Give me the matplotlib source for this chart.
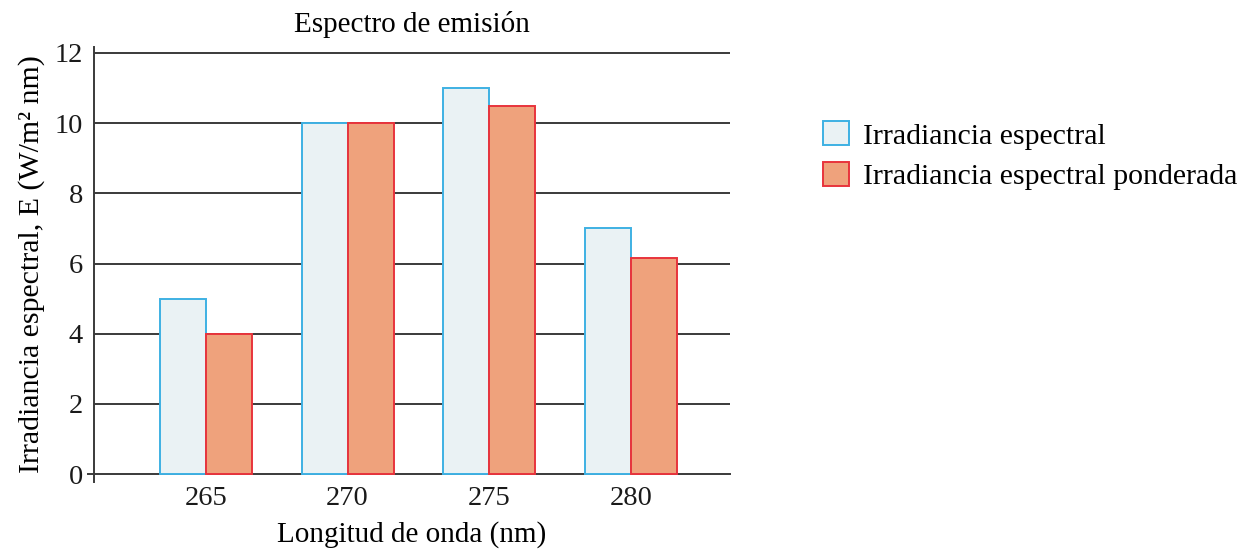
"""Espectro de emisión: irradiancia espectral vs ponderada."""
import matplotlib.pyplot as plt
import numpy as np

plt.rcParams["font.family"] = ["Liberation Serif", "DejaVu Serif"]

wavelengths = ["265", "270", "275", "280"]
irradiancia = [5, 10, 11, 7]
ponderada = [4, 10, 10.5, 6.15]
y_ticks = [0, 2, 4, 6, 8, 10, 12]

FS = 21.5
BAR_W = 0.325

fig = plt.figure(figsize=(12.5, 5.52), dpi=100)
ax = fig.add_axes([0.0752, 0.1268, 0.5088, 0.788])

x = np.arange(len(wavelengths))

# --- gridlines behind bars ---
for yv in y_ticks:
    ax.axhline(yv, color="#3a3a3a", linewidth=1.4, zorder=1,
               xmin=-0.01 if yv == 0 else 0, clip_on=(yv != 0))

ax.bar(x - BAR_W / 2, irradiancia, width=BAR_W, color="#eaf2f4",
       edgecolor="#3eb1e3", linewidth=1.4, zorder=2,
       label="Irradiancia espectral")
ax.bar(x + BAR_W / 2, ponderada, width=BAR_W, color="#efa27c",
       edgecolor="#e8343c", linewidth=1.4, zorder=2,
       label="Irradiancia espectral ponderada")

ax.set_xlim(-0.79, 3.70)
ax.set_ylim(-0.228, 12.17)
ax.set_xticks(x)
ax.set_xticklabels(wavelengths)
ax.set_yticks(y_ticks)

for side in ["top", "right", "bottom"]:
    ax.spines[side].set_visible(False)
ax.spines["left"].set_color("#3a3a3a")
ax.spines["left"].set_linewidth(1.4)

ax.tick_params(axis="both", length=0, labelsize=20.5, colors="#1a1a1a")
ax.tick_params(axis="y", pad=8)
ax.tick_params(axis="x", pad=3)

ax.set_title("Espectro de emisión", fontsize=21, pad=11)
ax.set_xlabel("Longitud de onda (nm)", fontsize=21, labelpad=7)
ax.set_ylabel("Irradiancia espectral, E (W/m² nm)", fontsize=FS, labelpad=7)

fig.legend(loc="upper left", bbox_to_anchor=(0.637, 0.829), frameon=False,
           fontsize=FS, handlelength=0.87, handleheight=0.87,
           handletextpad=0.47, labelspacing=0.4)

plt.savefig("out.png", dpi=100)
plt.close(fig)
